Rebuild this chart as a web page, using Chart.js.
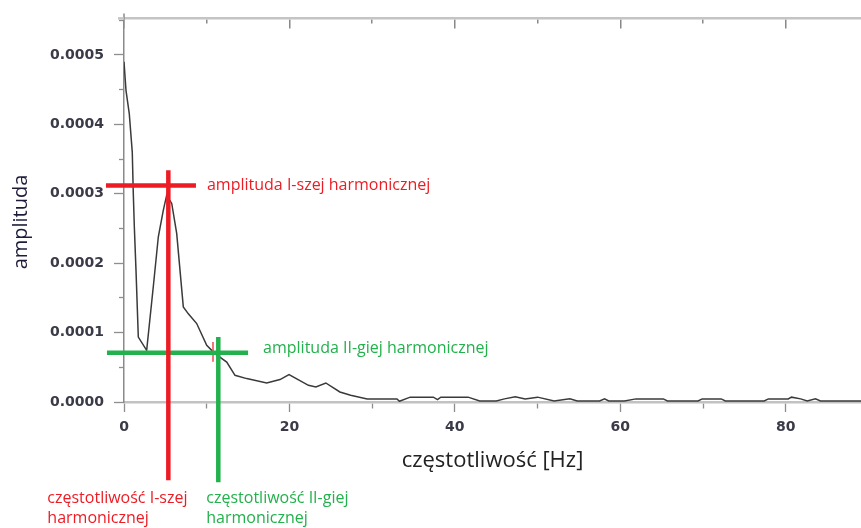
<!DOCTYPE html>
<html><head><meta charset="utf-8">
<script src="https://cdn.jsdelivr.net/npm/chart.js@4/dist/chart.umd.min.js"></script>
<style>html,body{margin:0;padding:0;background:#fff}#wrap{width:861px;height:528px}</style>
</head><body><div id="wrap"><canvas id="c" width="861" height="528"></canvas></div>
<script>
// Spectrum (frequency [Hz] vs amplitude)
const freqHz = [0, 0.24, 0.64, 1.0, 1.12, 1.25, 1.45, 1.73, 2.74, 3.54, 4.15, 4.75, 5.16, 5.77, 6.37, 7.17, 7.78, 8.79, 10.0, 11.0, 12.42, 13.42, 14.84, 17.25, 18.86, 19.95, 22.3, 23.2, 24.4, 26.1, 27.4, 29.4,
  33.0, 33.3, 34.6, 37.4, 37.9, 38.3, 41.6, 43.0, 45.0, 46.0, 47.3, 48.5, 50.0, 52.0, 53.9, 54.8, 57.5, 58.1, 58.6, 60.5, 61.9, 65.2, 65.7, 69.4, 69.9, 72.2, 72.7, 77.4, 77.9, 80.3, 80.7, 81.8, 82.6, 83.6, 84.2, 89.1];
const amplitude = [0.00049, 0.000449, 0.000415, 0.00036, 0.000302, 0.000252, 0.00019, 0.0000936, 0.0000745, 0.000166, 0.000238, 0.000276, 0.000298, 0.000286, 0.000243, 0.000137, 0.000127, 0.000113, 0.0000817, 0.0000697, 0.0000576, 0.0000385, 0.0000337, 0.0000274, 0.0000323, 0.0000395, 0.000024, 0.0000216, 0.0000274, 0.0000144, 0.0000096, 0.0000045,
  0.0000045, 0.000001, 0.000007, 0.000007, 0.0000035, 0.000007, 0.000007, 0.0000015, 0.0000015, 0.0000045, 0.0000075, 0.0000045, 0.000007, 0.0000015, 0.0000045, 0.0000015, 0.0000015, 0.0000045, 0.0000015, 0.0000015, 0.0000045, 0.0000045, 0.0000015, 0.0000015, 0.0000045, 0.0000045, 0.0000015, 0.0000015, 0.0000045, 0.0000045, 0.000007, 0.0000045, 0.0000015, 0.0000045, 0.0000015, 0.0000015];

// Harmonic markers
const harm1Freq = 5.36, harm1Amp = 0.000312;
const harm2Freq = 11.4, harm2Amp = 0.0000711;
const harm1HLine = [-2.18, 8.7];
const harm1VLine = [0.0003337, -0.0001128];
const harm2HLine = [-2.06, 15.0];
const harm2VLine = [0.0000936, -0.0001156];
const smallMarkX = 10.76, smallMarkY = [0.0000866, 0.0000579];

const xTickLabels = [0, 20, 40, 60, 80];
const labels = {
  xTitle: 'częstotliwość [Hz]',
  yTitle: 'amplituda',
  amp1: 'amplituda I-szej harmonicznej',
  amp2: 'amplituda II-giej harmonicznej',
  freq1: ['częstotliwość I-szej', 'harmonicznej'],
  freq2: ['częstotliwość II-giej', 'harmonicznej']
};

const RED = '#ed1c24', GREEN = '#22b14c';
const X_MAX = 89.1, Y_MAX = 0.0005526;

const seg = (pts, color, w) => ({data: pts, borderColor: color, borderWidth: w, showLine: true, pointRadius: 0, clip: false, borderCapStyle: 'butt'});

const textPlugin = {
  id: 'texts',
  afterDraw(chart) {
    const ctx = chart.ctx, xs = chart.scales.x, ys = chart.scales.y, ca = chart.chartArea;
    ctx.save();
    // small axis overhangs at top-left corner
    ctx.strokeStyle = '#8a8a8a'; ctx.lineWidth = 1.5;
    ctx.beginPath(); ctx.moveTo(ca.left, ca.top - 5); ctx.lineTo(ca.left, ca.top); ctx.stroke();
    ctx.strokeStyle = '#c4c4c4'; ctx.lineWidth = 2.5;
    ctx.beginPath(); ctx.moveTo(ca.left - 6, ca.top); ctx.lineTo(ca.left, ca.top); ctx.stroke();

    ctx.textBaseline = 'middle';
    ctx.font = '16px "Open Sans"';
    ctx.fillStyle = RED;
    ctx.textAlign = 'left';
    ctx.fillText(labels.amp1, xs.getPixelForValue(harm1HLine[1]) + 11, ys.getPixelForValue(harm1Amp));
    ctx.fillStyle = GREEN;
    ctx.fillText(labels.amp2, xs.getPixelForValue(harm2HLine[1]) + 15, ys.getPixelForValue(harm2Amp) - 4);
    const r = xs.getPixelForValue(harm1Freq), g = xs.getPixelForValue(harm2Freq);
    ctx.fillStyle = RED;
    ctx.fillText(labels.freq1[0], r - 121, 498);
    ctx.fillText(labels.freq1[1], r - 121, 518);
    ctx.fillStyle = GREEN;
    ctx.fillText(labels.freq2[0], g - 12, 498);
    ctx.fillText(labels.freq2[1], g - 12, 518);
    // y title
    ctx.translate(21, 222);
    ctx.rotate(-Math.PI / 2);
    ctx.textAlign = 'center';
    ctx.font = '20px "Open Sans"';
    ctx.fillStyle = '#1c1c3a';
    ctx.fillText(labels.yTitle, 0, 0);
    ctx.restore();
  }
};

const isMajorX = v => Math.round(v) % 20 === 0;
const isMajorY = v => Math.round(v / 0.00005) % 2 === 0;

new Chart(document.getElementById('c'), {
  type: 'scatter',
  data: {
    datasets: [
      seg([{x: harm1Freq, y: harm1VLine[0]}, {x: harm1Freq, y: harm1VLine[1]}], RED, 4.5),
      seg([{x: harm1HLine[0], y: harm1Amp}, {x: harm1HLine[1], y: harm1Amp}], RED, 4.5),
      seg([{x: harm2Freq, y: harm2VLine[0]}, {x: harm2Freq, y: harm2VLine[1]}], GREEN, 4.5),
      seg([{x: harm2HLine[0], y: harm2Amp}, {x: harm2HLine[1], y: harm2Amp}], GREEN, 4.5),
      seg([{x: smallMarkX, y: smallMarkY[0]}, {x: smallMarkX, y: smallMarkY[1]}], '#f04a50', 1.5),
      Object.assign(seg(freqHz.map((f, i) => ({x: f, y: amplitude[i]})), '#3a3a3a', 1.5), {clip: 0, tension: 0})
    ]
  },
  options: {
    responsive: false,
    devicePixelRatio: 1,
    animation: false,
    events: [],
    layout: {padding: {left: 0, right: 0, top: 0, bottom: 54}},
    plugins: {legend: {display: false}, tooltip: {enabled: false}},
    scales: {
      x: {
        type: 'linear', position: 'bottom', min: 0, max: X_MAX,
        afterFit: s => { s.height = 72; },
        border: {color: '#c2c2c2', width: 2.5},
        grid: {
          drawOnChartArea: false, tickLength: 10, tickColor: '#8e8e8e', tickWidth: 1.3,
          tickBorderDash: c => isMajorX(c.tick.value) ? [] : [5, 5],
          tickBorderDashOffset: 0
        },
        ticks: {
          stepSize: 10, includeBounds: false, autoSkip: false, maxRotation: 0, padding: 7,
          color: '#3a3a48', font: {family: '"DejaVu Sans"', size: 14, weight: 'bold'},
          callback: v => xTickLabels.includes(v) ? String(v) : ''
        },
        title: {display: true, text: labels.xTitle, color: '#222', font: {family: '"Open Sans"', size: 22}, padding: {top: 0, bottom: 0}}
      },
      x2: {
        type: 'linear', position: 'top', min: 0, max: X_MAX,
        afterFit: s => { s.height = 18; },
        border: {
          color: '#c4c4c4', width: 2.5,
          dash: c => c.tick ? (isMajorX(c.tick.value) ? [9, 3000] : [4, 3000]) : []
        },
        grid: {drawOnChartArea: true, drawTicks: false, color: '#888888', lineWidth: 1.5},
        ticks: {display: false, stepSize: 10, includeBounds: false}
      },
      y: {
        type: 'linear', position: 'left', min: 0, max: Y_MAX,
        afterFit: s => { s.width = 124; },
        border: {color: '#8a8a8a', width: 1.5},
        grid: {
          drawOnChartArea: false, tickLength: 10, tickColor: '#8e8e8e', tickWidth: 1.3,
          tickBorderDash: c => isMajorY(c.tick.value) ? [] : [5, 5],
          tickBorderDashOffset: 5
        },
        ticks: {
          stepSize: 0.00005, includeBounds: false, autoSkip: false, padding: 10,
          color: '#3a3a48', font: {family: '"DejaVu Sans"', size: 14, weight: 'bold'},
          callback: v => isMajorY(v) ? v.toFixed(4) : ''
        }
      }
    }
  },
  plugins: [textPlugin]
});
</script></body></html>
